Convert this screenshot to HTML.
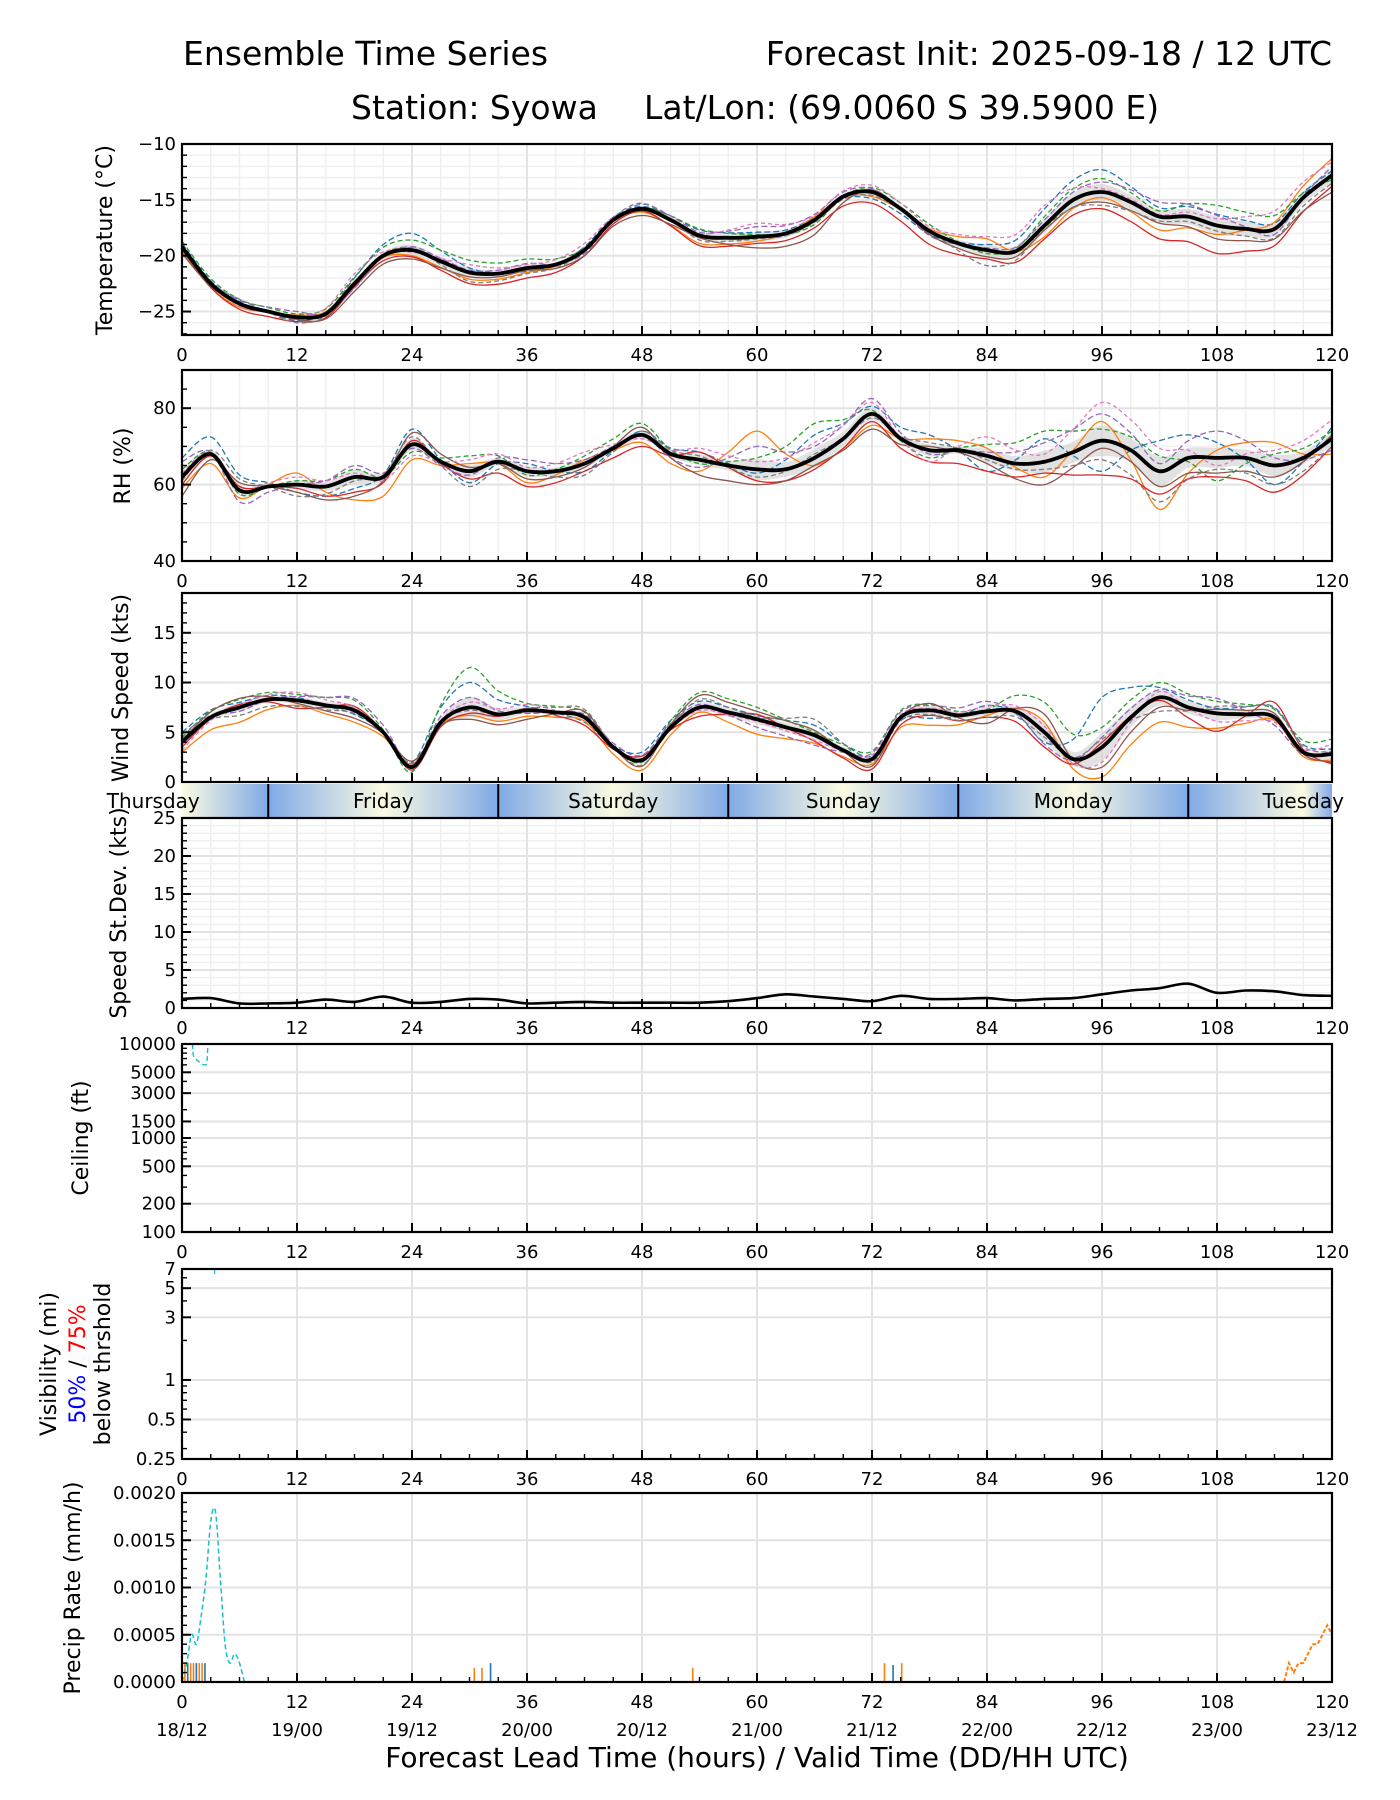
<!DOCTYPE html>
<html><head><meta charset="utf-8"><title>Ensemble Time Series</title>
<style>
html,body{margin:0;padding:0;background:#fff;}
svg{display:block;font-family:"DejaVu Sans","Liberation Sans",sans-serif;}
</style></head>
<body>
<svg id="chart" width="1400" height="1800" viewBox="0 0 1400 1800" xmlns="http://www.w3.org/2000/svg">
<defs>
<linearGradient id="dayGrad" gradientUnits="userSpaceOnUse" x1="182" x2="1332" y1="0" y2="0"></linearGradient>
</defs>
<text x="183" y="65" font-size="33">Ensemble Time Series</text>
<text x="1332" y="65" font-size="33" text-anchor="end">Forecast Init: 2025-09-18 / 12 UTC</text>
<text x="351" y="119" font-size="33">Station: Syowa</text>
<text x="644" y="119" font-size="33">Lat/Lon: (69.0060 S 39.5900 E)</text>
<g id="panels"></g>
<text x="757" y="1767" font-size="28" text-anchor="middle">Forecast Lead Time (hours) / Valid Time (DD/HH UTC)</text>
</svg>
<script>
// ---- data ----
const hours3 = [0,3,6,9,12,15,18,21,24,27,30,33,36,39,42,45,48,51,54,57,60,63,66,69,72,75,78,81,84,87,90,93,96,99,102,105,108,111,114,117,120];
const hours6 = [0,6,12,18,24,30,36,42,48,54,60,66,72,78,84,90,96,102,108,114,120];
const tempMean = [-19.2,-22.5,-24.3,-25.0,-25.5,-25.2,-22.5,-20.0,-19.5,-20.5,-21.5,-21.6,-21.1,-20.8,-19.5,-16.8,-15.8,-16.8,-18.2,-18.4,-18.3,-18.0,-16.8,-14.7,-14.3,-15.8,-17.8,-18.9,-19.5,-19.6,-17.3,-15.0,-14.3,-15.2,-16.5,-16.5,-17.3,-17.6,-17.6,-14.8,-12.8];
const rhMean = [62,68,58.5,59.5,60,59.5,62,62,70.5,66,63.5,66,63.5,63.5,65.5,69.5,73,68,66.5,65,64,64,67,72,78.5,72,69,69,67.5,65.5,66,68.5,71.5,69,63.5,67,67,67,65,67,72];
const windMean = [4,6.5,7.5,8.3,8.2,7.7,7.2,5,1.5,6,7.5,6.8,7.2,7,6.5,3.5,2.2,5.5,7.5,7,6.3,5.5,4.7,3.2,2.3,6.5,7.2,6.7,7.1,7.1,5,2.3,3.5,6.5,8.5,7.5,6.9,6.8,6.5,3,2.8];
const stdevVals = [1.2,1.3,0.6,0.6,0.7,1.1,0.8,1.5,0.7,0.8,1.2,1.1,0.6,0.7,0.8,0.7,0.7,0.7,0.7,0.9,1.3,1.8,1.5,1.2,0.9,1.6,1.2,1.2,1.3,1.0,1.2,1.3,1.8,2.3,2.6,3.2,2.0,2.3,2.2,1.7,1.6];
const tempOff = [
[0.3,0.2,-0.3,0.5,1.5,0.4,-0.3,0.3,0.2,0.5,0.4,0.2,-0.6,-0.3,0.5,1.5,2.0,0.8,1.0,0.5,0.4],
[-0.4,-0.3,0.2,0.2,-0.5,-0.6,-0.4,0.1,-0.3,-0.7,-0.4,0.3,-0.4,0.2,1.0,-1.0,-0.5,-1.2,-0.8,0.6,1.5],
[0.5,0.4,0.3,0.6,0.9,1.1,0.8,0.2,0.1,0.6,0.2,-0.4,0.4,0.6,-0.3,0.8,1.2,0.5,1.8,1.2,-0.4],
[-0.2,-0.5,-0.4,-0.3,-0.6,-1.0,-0.9,-0.5,-0.2,-0.9,-0.6,-0.7,-1.0,-1.2,-0.8,-1.2,-1.5,-2.0,-2.5,-1.5,-1.0],
[0.1,0.3,0.5,-0.4,0.3,0.2,0.4,-0.3,0.4,0.3,0.9,0.5,0.3,-0.4,0.2,0.5,0.9,1.3,0.9,-0.5,0.8],
[-0.6,0.1,-0.2,-0.7,-0.8,-0.4,-0.2,-0.5,-0.6,-0.2,-1.0,-1.3,0.2,-0.3,-0.6,-0.4,-0.9,-0.6,-1.2,-0.9,-1.5],
[0.2,-0.2,0.1,0.9,-0.2,0.7,0.3,0.6,-0.1,0.2,1.2,0.4,0.6,0.4,1.2,1.8,0.3,0.2,0.6,1.6,1.2],
[-0.3,0.4,-0.5,0.1,0.2,-0.8,-0.5,-0.1,0.5,-0.4,-0.2,-0.2,-0.3,0.1,-1.4,-0.2,-1.2,-0.4,-0.5,-0.8,-0.7]];
const rhOff = [
[5,4,-2,-3,4,-3,2,-2,1,2,-1,6,2,4,-4,6,-8,8,4,-5,3],
[-3,-2,3,-6,-4,2,-3,1,-2,-3,10,-2,-3,3,2,-4,5,-10,2,6,-4],
[2,-1,1,2,-2,4,-1,2,3,-1,3,9,1,-2,3,8,3,4,-6,3,2],
[-2,1,-1,-4,1,-2,-4,-2,-3,2,-3,-3,-2,-3,-4,-3,-9,-6,-5,-7,-2],
[4,-3,0,3,-1,-1,3,1,0,-2,6,3,4,-1,1,5,7,2,7,2,-3],
[-5,2,-2,-5,3,1,-2,-1,2,-4,-4,-2,-4,1,-2,-6,-2,-4,-4,-3,1],
[1,0,2,1,-3,3,1,3,-1,3,2,4,3,-3,5,2,10,6,-2,4,5],
[-1,3,-3,-1,2,-4,0,-3,1,1,-2,1,-1,2,-1,-2,-5,-8,-3,-5,-2]];
const windOff = [
[1,0.5,0.3,-0.4,0.5,2.5,0.4,-0.5,0.8,0.6,0.4,1,0.3,-0.8,0.6,-1,5,1,0.5,1,0.5],
[-1,-1.5,-0.5,-1.2,0.3,-0.8,-0.6,-0.4,-1,-0.5,-1.5,-0.8,-0.5,-1.5,-0.4,1,-3,-2.5,-1.5,-0.3,-0.6],
[0.5,0.8,0.6,1,-0.5,4,0.7,0.5,-0.2,1.5,1.2,0.3,0.8,0.6,0.2,3,2,1.5,1.2,0.8,1.5],
[-0.5,0.3,-0.8,0.4,-0.3,-0.6,0.2,-0.8,0.4,-0.9,0.5,-0.6,-1,-0.5,-0.6,-1.5,0.5,-0.3,-1.8,1.5,-1],
[0.8,-0.4,0.4,1.2,0.2,1,-0.3,0.3,0.5,0.3,-0.8,-1,0.6,0.5,1,-1.2,1,0.8,1.5,-0.8,0.3],
[0.2,0.9,-0.3,-0.8,0.6,-1.2,-0.9,0.6,-0.6,1.2,0.8,0.5,-0.7,0.7,-1.2,1.8,-2,-1,0.4,0.4,-0.8],
[-0.8,0.2,0.8,0.3,-0.2,0.5,0.6,-0.2,0.1,-0.3,-0.2,-0.5,0.4,0.2,0.5,0.6,-1.5,0.6,-0.8,-0.5,1],
[0.4,-0.8,-0.6,-0.3,0.4,-0.3,0.2,0.8,-0.5,0.8,0.2,1.6,-0.3,-0.4,-0.6,-0.5,0.8,-1.4,0.7,0.9,0.2]];
const ceilHours = [1.1,1.2,1.6,2.0,2.4,2.6,2.7];
const ceilVals = [10000,7500,6700,6200,6000,6400,10000];
const precipCyanHours = [0,0.5,1,1.5,2,2.5,3,3.5,4,4.5,5,5.5,6,6.5];
const precipCyanVals = [0,0.0002,0.0005,0.0004,0.0007,0.0011,0.0017,0.0018,0.0011,0.0004,0.0002,0.0003,0.0002,0];
const precipOrangeHours = [115,115.5,116,116.5,117,117.5,118,118.5,119,119.5,120];
const precipOrangeVals = [0,0.0002,0.0001,0.0002,0.0002,0.0003,0.0004,0.0004,0.0005,0.0006,0.0005];
const precipBarHours = [0.3,0.6,0.9,1.2,1.5,1.8,2.1,2.4,30.5,31.3,32.2,53.3,73.3,74.2,75.1];
const precipBarVals = [0.0002,0.0002,0.0002,0.0002,0.0002,0.0002,0.0002,0.0002,0.00015,0.00015,0.0002,0.00015,0.0002,0.00018,0.0002];
const xTicks = [0,12,24,36,48,60,72,84,96,108,120];
const dateLabels = ["18/12","19/00","19/12","20/00","20/12","21/00","21/12","22/00","22/12","23/00","23/12"];
const dayNames = ["Thursday","Friday","Saturday","Sunday","Monday","Tuesday"];
const dayBounds = [9,33,57,81,105];

// ---- helpers ----
const NS="http://www.w3.org/2000/svg";
const X0=182,X1=1332;
const TICKFS=18;
const xs=h=>X0+(h/120)*(X1-X0);
const colors=["#1f77b4","#ff7f0e","#2ca02c","#d62728","#9467bd","#8c564b","#e377c2","#7f7f7f","#bcbd22","#17becf"];
const root=document.getElementById('panels');
function el(tag,attrs,parent){const e=document.createElementNS(NS,tag);for(const k in attrs)e.setAttribute(k,attrs[k]);(parent||root).appendChild(e);return e;}
function smooth(pts){if(!pts.length)return"";let d="M"+pts[0][0].toFixed(1)+","+pts[0][1].toFixed(1);
 for(let i=0;i<pts.length-1;i++){const p0=pts[i-1]||pts[i],p1=pts[i],p2=pts[i+1],p3=pts[i+2]||p2;
 d+=" C"+(p1[0]+(p2[0]-p0[0])/6).toFixed(1)+","+(p1[1]+(p2[1]-p0[1])/6).toFixed(1)+" "+(p2[0]-(p3[0]-p1[0])/6).toFixed(1)+","+(p2[1]-(p3[1]-p1[1])/6).toFixed(1)+" "+p2[0].toFixed(1)+","+p2[1].toFixed(1);}return d;}
function interp(hArr,vArr,h){for(let i=0;i<hArr.length-1;i++){if(h>=hArr[i]&&h<=hArr[i+1]){const t=(h-hArr[i])/(hArr[i+1]-hArr[i]);return vArr[i]+t*(vArr[i+1]-vArr[i]);}}return vArr[vArr.length-1];}

function panel(name,top,bot,ys,yMajor,yLabels,yMinor,minorGrid){
 const g=el('g',{});
 
 
 if(minorGrid){yMinor.forEach(v=>{const y=ys(v);el('line',{x1:X0,x2:X1,y1:y,y2:y,stroke:'#f0f0f0','stroke-width':1.5},g);});
  for(let h=3;h<120;h+=3){if(h%12)el('line',{x1:xs(h),x2:xs(h),y1:top,y2:bot,stroke:'#f0f0f0','stroke-width':1.5},g);}}
 yMajor.forEach(v=>{const y=ys(v);el('line',{x1:X0,x2:X1,y1:y,y2:y,stroke:'#e3e3e3','stroke-width':2},g);});
 xTicks.forEach(h=>{el('line',{x1:xs(h),x2:xs(h),y1:top,y2:bot,stroke:'#e3e3e3','stroke-width':2},g);});
 return g;
}
function frame(g,top,bot,ys,yMajor,yLabels,yMinor,noXLabels){
 el('rect',{x:X0,y:top,width:X1-X0,height:bot-top,fill:'none',stroke:'#000','stroke-width':2.2},g);
 for(let h=3;h<120;h+=3){const maj=h%12===0;el('line',{x1:xs(h),x2:xs(h),y1:bot,y2:bot-(maj?9:5),stroke:'#000','stroke-width':maj?2:1.4},g);}
 yMajor.forEach(v=>{const y=ys(v);el('line',{x1:X0,x2:X0+9,y1:y,y2:y,stroke:'#000','stroke-width':2},g);});
 yMinor.forEach(v=>{const y=ys(v);el('line',{x1:X0,x2:X0+5,y1:y,y2:y,stroke:'#000','stroke-width':1.4},g);});
 yMajor.forEach((v,i)=>{const t=el('text',{x:X0-6,y:ys(v)+6,'font-size':TICKFS,'text-anchor':'end'},g);t.textContent=yLabels[i];
  
  });
 if(!noXLabels)xTicks.forEach(h=>{const t=el('text',{x:xs(h),y:bot+26,'font-size':TICKFS,'text-anchor':'middle'},g);t.textContent=h;
  
  });
}
function ylabel(g,x,cy,txt,size){const t=el('text',{x:x,y:cy,'font-size':size||22,'text-anchor':'middle',transform:`rotate(-90 ${x} ${cy})`},g);t.textContent=txt;
 
 return t;}
const dashes=["6,3","none","5,3","none","6,3","none","4,3","5,3"];
function ensemble(g,mean,offs,ys,clampMin,top,bot){
 const members=offs.map(o=>hours3.map((h,k)=>{let v=mean[k]+interp(hours6,o,h);if(clampMin!==null&&v<clampMin)v=clampMin;return v;}));
 const up=[],dn=[];
 hours3.forEach((h,k)=>{const vals=members.map(m=>m[k]);const mu=vals.reduce((a,b)=>a+b,0)/vals.length;
  const sd=Math.sqrt(vals.reduce((a,b)=>a+(b-mu)*(b-mu),0)/vals.length);up.push([xs(h),ys(mean[k]+sd*0.6)]);dn.push([xs(h),ys(mean[k]-sd*0.6)]);});
 const band=el('path',{d:smooth(up)+" L"+smooth(dn.slice().reverse()).slice(1)+" Z",fill:'#cfcfcf','fill-opacity':0.6,stroke:'none'},g);
 
 
 const clip='clip-'+top;
 const cp=el('clipPath',{id:clip},g);el('rect',{x:X0,y:top,width:X1-X0,height:bot-top},cp);
 members.forEach((m,i)=>{const p=el('path',{d:smooth(hours3.map((h,k)=>[xs(h),ys(m[k])])),fill:'none',stroke:colors[i%10],'stroke-width':1.3,'stroke-dasharray':dashes[i],'clip-path':`url(#${clip})`},g);
  
  });
 const mp=el('path',{d:smooth(hours3.map((h,k)=>[xs(h),ys(mean[k])])),fill:'none',stroke:'#000','stroke-width':3.8},g);
 
 
}
function range(a,b,s){const r=[];for(let v=a;v<=b+1e-9;v+=s)r.push(+v.toFixed(4));return r;}

// Temperature
(function(){const top=144,bot=335,lo=-27.1,hi=-10;const ys=v=>bot-(v-lo)/(hi-lo)*(bot-top);
 const maj=[-25,-20,-15,-10],minr=range(-27,-10,1);
 const g=panel('temperature',top,bot,ys,maj,null,minr,true);
 ensemble(g,tempMean,tempOff,ys,null,top,bot);
 frame(g,top,bot,ys,maj,["\u221225","\u221220","\u221215","\u221210"],minr);
 ylabel(g,112,240,"Temperature (\u00b0C)");})();
// RH
(function(){const top=370,bot=561,lo=40,hi=90;const ys=v=>bot-(v-lo)/(hi-lo)*(bot-top);
 const maj=[40,60,80],minr=range(45,90,5);
 const g=panel('rh',top,bot,ys,maj,null,[50,70,90],true);
 ensemble(g,rhMean,rhOff,ys,null,top,bot);
 frame(g,top,bot,ys,maj,["40","60","80"],minr);
 ylabel(g,130,466,"RH (%)");})();
// Wind
(function(){const top=593,bot=782,lo=0,hi=19;const ys=v=>bot-(v-lo)/(hi-lo)*(bot-top);
 const maj=[0,5,10,15],minr=range(1,19,1);
 const g=panel('wind-speed',top,bot,ys,maj,null,[],false);
 ensemble(g,windMean,windOff,ys,0,top,bot);
 frame(g,top,bot,ys,maj,["0","5","10","15"],minr,true);
 ylabel(g,128,688,"Wind Speed (kts)");})();
// Day band
(function(){const grad=document.getElementById('dayGrad');
 const stops=[];for(let d=-1;d<6;d++){const noon=21+24*d-24, b=9+24*d;stops.push([noon,'#fbfbe2']);stops.push([b,'#80a9e6']);}
 stops.push([117,'#fbfbe2']);
 stops.sort((a,b)=>a[0]-b[0]).forEach(s=>{const st=document.createElementNS(NS,'stop');st.setAttribute('offset',Math.max(0,Math.min(1,s[0]/120)));st.setAttribute('stop-color',s[1]);grad.appendChild(st);});
 const g=el('g',{});
 el('rect',{x:X0,y:784,width:X1-X0,height:33,fill:'url(#dayGrad)'},g);
 dayBounds.forEach(h=>{el('line',{x1:xs(h),x2:xs(h),y1:784,y2:817,stroke:'#000','stroke-width':2},g);});
 dayNames.forEach((n,i)=>{const t=el('text',{x:xs(-3+24*i),y:808,'font-size':20,'text-anchor':'middle'},g);t.textContent=n;
  
  });})();
// Stdev
(function(){const top=818,bot=1008,lo=0,hi=25;const ys=v=>bot-(v-lo)/(hi-lo)*(bot-top);
 const maj=[0,5,10,15,20,25],minr=range(1,25,1);
 const g=panel('speed-stdev',top,bot,ys,maj,null,minr,true);
 const p=el('path',{d:smooth(hours3.map((h,k)=>[xs(h),ys(stdevVals[k])])),fill:'none',stroke:'#000','stroke-width':2.6},g);
 
 
 frame(g,top,bot,ys,maj,["0","5","10","15","20","25"],minr);
 ylabel(g,126,913,"Speed St.Dev. (kts)");})();
// Ceiling (log)
(function(){const top=1044,bot=1232,lo=Math.log10(100),hi=Math.log10(10000);const ys=v=>bot-(Math.log10(v)-lo)/(hi-lo)*(bot-top);
 const maj=[100,200,500,1000,1500,3000,5000,10000];const minr=[300,400,600,700,800,900,2000,4000,6000,7000,8000,9000];
 const g=panel('ceiling',top,bot,ys,maj,null,[],false);
 const p=el('path',{d:smooth(ceilHours.map((h,k)=>[xs(h),ys(ceilVals[k])])),fill:'none',stroke:'#17becf','stroke-width':1.4,'stroke-dasharray':'5,3'},g);
 
 
 frame(g,top,bot,ys,maj,maj.map(String),minr);
 ylabel(g,88,1138,"Ceiling (ft)");})();
// Visibility (log)
(function(){const top=1269,bot=1459,lo=Math.log10(0.25),hi=Math.log10(7);const ys=v=>bot-(Math.log10(v)-lo)/(hi-lo)*(bot-top);
 const maj=[0.25,0.5,1,3,5,7];const minr=[0.3,0.4,0.6,0.7,0.8,0.9,2,4,6];
 const g=panel('visibility',top,bot,ys,maj,null,[],false);
 el('line',{x1:xs(3.4),x2:xs(3.4),y1:top,y2:top+5,stroke:'#17becf','stroke-width':1.2},g);
 frame(g,top,bot,ys,maj,["0.25","0.5","1","3","5","7"],minr);
 ylabel(g,56,1364,"Visibility (mi)");
 const t=el('text',{x:85,y:1364,'font-size':22,'text-anchor':'middle',transform:'rotate(-90 85 1364)'},g);
 
 
 const a=el('tspan',{fill:'#0000ff'},t);a.textContent="50%";const b=el('tspan',{fill:'#000'},t);b.textContent=" / ";const c=el('tspan',{fill:'#ff0000'},t);c.textContent="75%";
 ylabel(g,110,1364,"below thrshold");})();
// Precip
(function(){const top=1493,bot=1682,lo=0,hi=0.002;const ys=v=>bot-(v-lo)/(hi-lo)*(bot-top);
 const maj=[0,0.0005,0.001,0.0015,0.002];const minr=range(0.0001,0.002,0.0001);
 const g=panel('precip-rate',top,bot,ys,maj,null,[],false);
 precipBarHours.forEach((h,i)=>{const r=el('rect',{x:xs(h)-0.8,y:ys(precipBarVals[i]),width:1.6,height:bot-ys(precipBarVals[i]),fill:i%3===1?'#1f77b4':(i===10?'#bcbd22':'#ff7f0e')},g);
  
  });
 const p1=el('path',{d:smooth(precipCyanHours.map((h,k)=>[xs(h),ys(precipCyanVals[k])])),fill:'none',stroke:'#17becf','stroke-width':1.5,'stroke-dasharray':'5,3'},g);
 
 
 const p2=el('path',{d:precipOrangeHours.map((h,k)=>(k?'L':'M')+xs(h).toFixed(1)+','+ys(precipOrangeVals[k]).toFixed(1)).join(' '),fill:'none',stroke:'#ff7f0e','stroke-width':2,'stroke-dasharray':'4,2'},g);
 
 
 frame(g,top,bot,ys,maj,["0.0000","0.0005","0.0010","0.0015","0.0020"],minr);
 xTicks.forEach((h,i)=>{const t=el('text',{x:xs(h),y:1736,'font-size':TICKFS,'text-anchor':'middle'},g);t.textContent=dateLabels[i];
  
  });
 ylabel(g,80,1588,"Precip Rate (mm/h)");})();
</script>
</body></html>
